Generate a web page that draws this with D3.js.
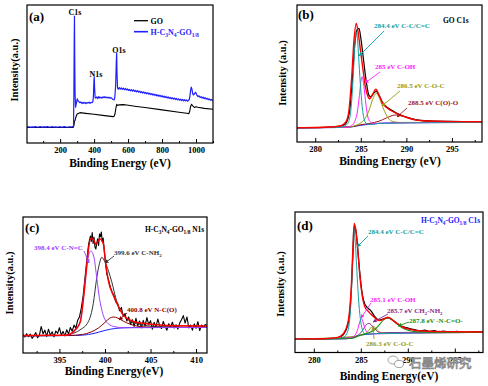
<!DOCTYPE html>
<html>
<head>
<meta charset="utf-8">
<script src="https://cdn.jsdelivr.net/npm/d3@7"></script>
<style>body{margin:0;background:#fff;}</style>
</head>
<body>
<div id="container"></div>
<script>
let w=488;
let h=386;

// ---- (a) survey spectra [binding energy, intensity] ----
let surveyGO = [[5,11.2],[100,11.3],[200,11.2],[275,11.3],[279,11.6],[282,13.5],[285,15.8],[288,16.3],[292,18.5],[300,21],[317,22],[350,21.5],[400,20.8],[450,20],[511,19.1],[518,19.4],[523,21],[528,25],[533,28],[538,27.2],[545,27.6],[570,27.8],[592,27.5],[650,26.5],[700,25.7],[800,24.0],[900,22.3],[945,21.5],[958,21.3],[963,23],[968,26.5],[974,28],[982,26.8],[990,25.8],[1000,26.3],[1010,25.9],[1050,25.1],[1100,24.4]];
let surveyHCN = [[5,11.5],[15,11.8],[25,11.4],[35,11.7],[45,11.5],[55,11.9],[65,11.4],[75,11.6],[85,11.8],[95,11.3],[105,11.7],[115,11.5],[125,11.9],[135,11.4],[145,11.6],[155,11.8],[165,11.5],[175,11.7],[185,11.4],[195,11.8],[205,11.6],[215,11.5],[225,11.9],[235,11.6],[245,11.4],[255,11.7],[265,11.6],[275,11.8],[279,12.5],[281,35],[283,75],[284.5,92],[286,62],[288,36],[291,26],[296,29],[301,32],[306,30.5],[311,30],[316,29.2],[322,29.8],[328,28.6],[334,29.5],[340,28.8],[346,29.4],[352,28.5],[358,29.3],[364,28.9],[370,29.6],[376,28.7],[382,29.5],[388,29.2],[393,30],[396,34],[399,45],[401,47.6],[403,40],[406,33],[410,32.5],[416,33.4],[422,32.2],[428,33.6],[434,32.5],[440,33.2],[446,32.6],[452,33.5],[458,32.8],[464,33.6],[470,32.7],[476,33.3],[482,32.5],[488,33.2],[494,32.4],[500,32.9],[506,32.1],[512,31.5],[518,31.2],[522,33],[527,42],[531,60],[533,65],[535,50],[538,40],[542,38.9],[548,40.2],[554,39.1],[560,40.0],[566,38.8],[572,39.7],[578,38.6],[584,39.5],[590,38.4],[596,39.2],[602,38.1],[608,38.9],[614,37.8],[620,38.7],[626,37.6],[632,38.5],[638,37.3],[644,38.1],[650,37.0],[656,37.9],[662,36.8],[668,37.6],[674,36.5],[680,37.3],[686,36.2],[692,37.0],[698,35.9],[704,36.7],[710,35.6],[716,36.4],[722,35.3],[728,36.1],[734,35.0],[740,35.8],[746,34.7],[752,35.5],[758,34.4],[764,35.2],[770,34.1],[776,34.9],[782,33.8],[788,34.6],[794,33.5],[800,34.3],[806,33.2],[812,34.0],[818,32.9],[824,33.7],[830,32.6],[836,33.4],[842,32.3],[848,33.1],[854,32.0],[860,32.8],[866,31.8],[872,32.6],[878,31.5],[884,32.3],[890,31.3],[896,32.0],[902,31.0],[908,31.8],[914,30.8],[920,31.6],[926,30.6],[932,31.4],[938,30.5],[944,31.2],[950,30.3],[955,30.8],[960,31.5],[964,34],[968,38],[972,40.5],[976,39],[980,36],[984,34.8],[990,35.5],[996,36.8],[1000,36.2],[1006,34.5],[1012,33.6],[1018,34.2],[1024,33.0],[1030,33.6],[1036,32.5],[1042,33.2],[1048,32.1],[1054,32.8],[1060,31.8],[1066,32.4],[1072,31.4],[1078,32.0],[1084,31.0],[1090,31.6],[1096,30.8],[1100,31.2]];
let surveyTicks = [200,400,600,800,1000];
let surveyMinor = [100,300,500,700,900,1100];

// ---- (b) GO C1s ----
let goRaw = [[278,10.3],[280,10.5],[281.5,10.8],[282.5,11.3],[283,12],[283.4,14],[283.8,24],[284.1,48],[284.35,72],[284.6,82],[284.8,83],[285,76],[285.3,60],[285.6,44],[285.9,34],[286.1,33],[286.4,35.5],[286.7,37],[287,34],[287.4,28.8],[287.8,25.8],[288.3,23.5],[288.9,21.2],[290,18.2],[291.1,16.2],[292.6,15.4],[295,15],[298.3,14.7]];
let goFit = [[278,10.5],[280,10.6],[281.5,10.9],[282.5,11.5],[283,12.5],[283.4,15],[283.7,23],[284,47],[284.25,74],[284.5,86.6],[284.75,78],[285,65],[285.2,55],[285.5,40.5],[285.8,33],[285.95,31.4],[286.3,34.8],[286.65,38.5],[287,34.3],[287.4,28.2],[287.8,25.3],[288.3,23],[288.9,20.9],[290,18],[291.1,16],[292.6,15.3],[295,14.9],[298.3,14.8]];
let goBg = [[278,10.4],[282,10.5],[283.5,10.7],[284,11.0],[284.5,11.6],[285,12.2],[285.5,12.6],[286,12.9],[286.5,13.3],[287,13.6],[288,13.9],[289,14.1],[290,14.2],[298.3,14.3]];
let goCC = [[278,10.4],[282.5,10.6],[283,11],[283.5,13],[283.8,18],[284,30],[284.2,52],[284.35,72],[284.5,80.5],[284.65,74],[284.8,58],[285,38],[285.2,23],[285.4,16],[285.7,13],[286.2,12.8],[287,13.6],[298.3,14.3]];
let goCOH = [[278,10.4],[283.5,10.8],[284,12],[284.3,14.5],[284.6,21],[284.85,34],[285.05,46],[285.15,47.7],[285.3,43],[285.5,31],[285.75,19],[286,15],[286.4,13.5],[287,13.7],[298.3,14.3]];
let goCOC = [[278,10.4],[283.5,10.8],[284.3,11.8],[284.9,13.5],[285.4,16.5],[285.9,23],[286.3,31],[286.7,35.5],[287.1,31],[287.5,24],[288,17.5],[288.5,15],[289.2,14.3],[298.3,14.3]];
let goCOO = [[278,10.4],[284,11.2],[285,12.6],[286,13.6],[287,15.2],[287.8,17.5],[288.5,19.4],[288.9,19.7],[289.5,19],[290.3,17.6],[291.2,16],[292.2,15],[293.5,14.5],[298.3,14.3]];
let c1sTicks = [280,285,290,295];
let c1sMinor = [282.5,287.5,292.5,297.5];

// ---- (c) H-C3N4-GO N1s ----
let n1sRaw = [[391.0,13.5],[391.2,11.8],[391.4,14.2],[391.6,12.0],[391.8,13.9],[392.0,10.8],[392.2,12.5],[392.4,15.0],[392.6,11.2],[392.8,13.0],[393.0,19.5],[393.2,14.0],[393.4,16.8],[393.6,12.2],[393.8,17.5],[394.0,13.1],[394.2,15.6],[394.4,11.9],[394.6,16.2],[394.8,14.4],[395.0,18.6],[395.2,13.3],[395.4,15.9],[395.6,12.6],[395.8,17.1],[396.0,14.0],[396.2,18.8],[396.4,16.0],[396.6,20.5],[396.8,18.2],[397.0,24.0],[397.2,26.5],[397.4,33.0],[397.6,42.0],[397.8,55.0],[398.0,68.0],[398.2,80.0],[398.4,86.0],[398.5,82.0],[398.6,88.5],[398.7,80.5],[398.8,85.0],[398.9,78.0],[399.0,76.5],[399.1,81.0],[399.2,84.0],[399.3,79.0],[399.4,87.5],[399.5,85.5],[399.6,89.0],[399.7,82.0],[399.8,84.5],[400.0,70.0],[400.2,58.0],[400.4,53.5],[400.6,48.0],[400.8,44.5],[401.0,42.0],[401.2,37.5],[401.4,36.5],[401.6,31.0],[401.8,33.5],[402.0,27.0],[402.2,29.0],[402.4,23.5],[402.6,26.5],[402.8,21.0],[403.0,24.5],[403.2,19.5],[403.4,25.5],[403.6,20.0],[403.8,23.5],[404.0,18.5],[404.2,24.0],[404.4,19.8],[404.6,26.0],[404.8,21.0],[405.0,23.8],[405.2,17.5],[405.4,22.5],[405.6,19.2],[405.8,25.0],[406.0,20.2],[406.2,18.0],[406.4,23.2],[406.6,19.5],[406.8,16.8],[407.0,21.5],[407.2,19.0],[407.4,22.6],[407.6,18.4],[407.8,20.8],[408.0,17.6],[408.2,22.0],[408.4,24.5],[408.6,27.5],[408.8,22.0],[409.0,26.5],[409.2,18.5],[409.4,20.6],[409.6,16.8],[409.8,21.4],[410.0,18.2],[410.2,23.0],[410.4,16.5],[410.6,20.5],[410.8,18.8],[411.0,21.0],[411.2,19.5]];
let n1sFit = [[391,12.9],[394,13],[395.2,13.1],[395.8,13.3],[396.3,14.5],[396.7,16.9],[397.3,23],[397.6,37.7],[397.9,57],[398.2,77],[398.45,84.3],[398.7,83.8],[399,80],[399.45,83.8],[399.8,80.7],[400.1,64.7],[400.4,52.4],[400.9,42.6],[401.5,34],[402,28],[402.7,24.3],[403.4,22.6],[404.2,21.8],[406,20.6],[408,20.1],[411.2,19.9]];
let n1sBg = [[391,12.7],[396,12.8],[397.5,13.1],[398.2,13.6],[398.8,14.4],[399.4,15.5],[400,16.6],[400.6,17.5],[401.2,18.1],[402,18.5],[403,18.7],[411.2,18.8]];
let n1sCNC = [[391,12.7],[395,12.8],[395.8,13.2],[396.7,16.2],[397.26,23],[397.55,35.3],[397.8,52.4],[398.06,67],[398.45,75],[398.8,70],[399.1,55],[399.4,40],[399.8,28],[400.36,21.5],[401.1,19.3],[402,18.6],[411.2,18.8]];
let n1sCNH2 = [[391,12.7],[395,12.8],[396.16,13.8],[397.26,17],[398.17,23],[398.72,36.5],[399.09,55],[399.4,66],[399.64,70.4],[400,67],[400.4,60],[400.74,52.4],[401.3,37.7],[402,28],[402.75,23.5],[404.2,20.6],[406,19.3],[411.2,18.8]];
let n1sNCO = [[391,12.7],[396,12.9],[397.5,13.6],[398.5,15.5],[399.3,18.5],[400,22.5],[400.5,25.5],[400.9,26.5],[401.4,25.7],[402,23.5],[402.7,21.3],[403.5,19.8],[404.5,19.1],[411.2,18.8]];
let n1sTicks = [395,400,405,410];
let n1sMinor = [392.5,397.5,402.5,407.5];

// ---- (d) H-C3N4-GO C1s ----
let hcRaw = [[278,9.5],[281,9.7],[282.3,10.2],[282.9,11.4],[283.4,15.5],[283.75,24],[284.0,45],[284.18,72],[284.33,90],[284.5,86],[284.72,70],[284.92,55],[285.15,42],[285.4,35],[285.7,32],[286.1,29.5],[286.5,25.5],[286.95,23],[287.45,24],[287.9,24.8],[288.5,22.5],[289.2,19.2],[289.8,17.8],[290.3,16.8],[290.8,16.2],[291.3,15.3],[291.8,15.9],[292.3,15.0],[292.8,15.5],[293.3,14.6],[293.8,15.2],[294.5,14.5],[295.2,15.0],[296,14.4],[297,14.8],[298,14.5]];
let hcFit = [[278,9.7],[281,9.8],[282.3,10.4],[282.86,11.6],[283.4,16.3],[283.74,25.8],[283.99,47.2],[284.17,75.7],[284.3,91.9],[284.46,87.6],[284.7,71],[284.9,54.4],[285.16,40.1],[285.4,33],[285.77,29.4],[286.4,25.3],[286.94,22.7],[287.47,23.9],[287.9,25.1],[288.53,22.3],[289.24,18.7],[290.3,16.3],[292.07,15.1],[295,14.8],[298,14.6]];
let hcBg = [[278,9.6],[283,9.7],[283.8,10.0],[284.2,10.8],[284.6,11.8],[285,12.4],[285.5,12.8],[286,13.1],[286.7,13.5],[287.5,13.9],[288.5,14.2],[290,14.3],[298,14.3]];
let hcCC = [[278,9.6],[282.5,9.8],[283.2,11],[283.6,15],[283.9,30],[284.05,52],[284.15,72],[284.25,88.8],[284.4,80],[284.55,62],[284.7,44],[284.9,27],[285.1,18],[285.4,13.5],[285.8,12.9],[286.5,13.4],[298,14.3]];
let hcCOH = [[278,9.6],[283.5,9.9],[284,10.6],[284.4,12.5],[284.7,17],[284.9,22],[285.05,24.6],[285.2,22.5],[285.4,18],[285.65,14.5],[286,13.2],[286.5,13.3],[298,14.3]];
let hcCH2 = [[278,9.6],[284,10.5],[284.6,11.9],[285,14],[285.35,17.5],[285.65,20.2],[285.85,20.7],[286.1,19.8],[286.45,17],[286.8,14.8],[287.2,13.8],[288,14.0],[298,14.3]];
let hcCOC = [[278,9.6],[284.5,11.5],[285.2,12.7],[285.7,14.5],[286,17],[286.3,18.7],[286.6,17.2],[286.95,14.8],[287.4,13.9],[298,14.3]];
let hcNCO = [[278,9.6],[284,10],[285,12.5],[285.8,13.9],[286.4,15.8],[287,20],[287.5,23.6],[287.9,24.6],[288.3,23.6],[288.8,20.6],[289.4,17.6],[290.1,15.6],[291,14.7],[292.5,14.4],[298,14.3]];
let hcTicks = [280,285,290,295];
let hcMinor = [282.5,287.5,292.5,297.5];

let serif = "'Liberation Serif','Times New Roman',serif";

let viz = d3.select("#container")
  .append("svg")
    .attr("width",w)
    .attr("height",h)
    .style("background-color","#fff")
;

let defs = viz.append("defs");
let markerCount = 0;
function arrowMarker(color){
  let id = "arr"+(markerCount++);
  defs.append("marker")
    .attr("id",id)
    .attr("viewBox","0 0 10 10")
    .attr("refX",9).attr("refY",5)
    .attr("markerWidth",4.5).attr("markerHeight",4.5)
    .attr("orient","auto")
    .append("path").attr("d","M0,0L10,5L0,10Z").attr("fill",color);
  return id;
}

// text with subscripts: parts = [[string, isSub], ...]
function richText(g, parts, x, y, size, color, anchor){
  let t = g.append("text")
    .attr("x",x).attr("y",y)
    .attr("fill",color)
    .attr("font-family",serif)
    .attr("font-weight","bold")
    .attr("font-size",size)
    .attr("text-anchor",anchor||"start");
  let down = false;
  parts.forEach(p=>{
    let s = t.append("tspan").text(p[0]);
    if(p[1] && !down){ s.attr("dy",size*0.3).attr("font-size",size*0.7); down=true; }
    else if(p[1]){ s.attr("font-size",size*0.7); }
    else if(down){ s.attr("dy",-size*0.3); down=false; }
  });
  return t;
}

function drawPanel(p){
  let f = p.frame;
  let x = d3.scaleLinear().domain(p.xDomain).range([f.left,f.right]);
  let y = d3.scaleLinear().domain([0,100]).range([f.bottom,f.top]);
  let g = viz.append("g").attr("class","panel");

  let clipId = "clip-"+p.id;
  defs.append("clipPath").attr("id",clipId)
    .append("rect").attr("x",f.left).attr("y",f.top)
    .attr("width",f.right-f.left).attr("height",f.bottom-f.top);

  let plot = g.append("g").attr("clip-path","url(#"+clipId+")");
  p.curves.forEach(c=>{
    let line = d3.line()
      .x(d=>x(d[0])).y(d=>y(d[1]))
      .curve(c.smooth ? d3.curveMonotoneX : d3.curveLinear);
    plot.append("path").datum(c.data)
      .attr("fill","none")
      .attr("stroke",c.color)
      .attr("stroke-width",c.width||1)
      .attr("stroke-linejoin","round")
      .attr("d",line);
  });

  let ax = g.append("g").attr("transform","translate(0,"+f.bottom+")")
    .call(d3.axisBottom(x).tickValues(p.ticks).tickSize(-4).tickPadding(4).tickFormat(d3.format("d")));
  ax.select(".domain").remove();
  ax.attr("font-family",serif).attr("font-size",8.5).attr("font-weight","bold");
  ax.selectAll("text").attr("fill","#000");
  ax.selectAll("line").attr("stroke","#000");

  let mi = g.append("g").attr("transform","translate(0,"+f.bottom+")")
    .call(d3.axisBottom(x).tickValues(p.minor).tickSize(-2).tickFormat(""));
  mi.select(".domain").remove();
  mi.selectAll("line").attr("stroke","#000");

  g.append("rect")
    .attr("x",f.left).attr("y",f.top)
    .attr("width",f.right-f.left).attr("height",f.bottom-f.top)
    .attr("fill","none").attr("stroke","#000").attr("stroke-width",1.2);

  // letter
  g.append("text").attr("x",p.letter[1]).attr("y",p.letter[2])
    .attr("font-family",serif).attr("font-weight","bold").attr("font-size",13)
    .text(p.letter[0]);
  // axis titles
  g.append("text").attr("x",p.xTitle[1]).attr("y",p.xTitle[2])
    .attr("text-anchor","middle")
    .attr("font-family",serif).attr("font-weight","bold").attr("font-size",11.5)
    .text(p.xTitle[0]);
  g.append("text")
    .attr("transform","translate("+p.yTitle[1]+","+p.yTitle[2]+") rotate(-90)")
    .attr("text-anchor","middle")
    .attr("font-family",serif).attr("font-weight","bold").attr("font-size",10.5)
    .text(p.yTitle[0]);

  (p.notes||[]).forEach(n=>{
    if(n.arrow){
      let id = arrowMarker(n.color);
      g.append("line")
        .attr("x1",n.arrow[0]).attr("y1",n.arrow[1])
        .attr("x2",n.arrow[2]).attr("y2",n.arrow[3])
        .attr("stroke",n.color).attr("stroke-width",0.9)
        .attr("marker-end","url(#"+id+")");
    }
    richText(g, n.parts, n.x, n.y, n.size||7, n.color, n.anchor);
  });
  return g;
}

let teal = "#12a0a0", mag = "#ff22ff", olive = "#9a9a10", dred = "#a01515";

// (a)
let pa = drawPanel({
  id:"a", xDomain:[5,1100], frame:{left:27,right:213,top:5,bottom:143},
  ticks:surveyTicks, minor:surveyMinor,
  curves:[
    {data:surveyGO, color:"#000", width:1.1},
    {data:surveyHCN, color:"#1f1fff", width:1.2}
  ],
  letter:["(a)",29,21],
  xTitle:["Binding Energy (eV)",120,167],
  yTitle:["Intensity(a.u.)",18,70],
  notes:[
    {parts:[["C1s"]], x:75, y:14.5, size:8, color:"#000", anchor:"middle"},
    {parts:[["N1s"]], x:96, y:77, size:8, color:"#000", anchor:"middle"},
    {parts:[["O1s"]], x:119, y:53, size:8, color:"#000", anchor:"middle"},
    {parts:[["GO"]], x:150.5, y:23.5, size:8, color:"#000"},
    {parts:[["H-C"],["3",1],["N"],["4",1],["-GO"],["1/8",1]], x:150.5, y:34.5, size:8, color:"#1f1fff"}
  ]
});
pa.append("line").attr("x1",134).attr("x2",148).attr("y1",20.7).attr("y2",20.7).attr("stroke","#000").attr("stroke-width",1.3);
pa.append("line").attr("x1",134).attr("x2",148).attr("y1",31.7).attr("y2",31.7).attr("stroke","#1f1fff").attr("stroke-width",1.6);

// (b)
drawPanel({
  id:"b", xDomain:[278,298.3], frame:{left:297,right:482,top:5,bottom:142},
  ticks:c1sTicks, minor:c1sMinor,
  curves:[
    {data:goBg, color:"#2020ff", smooth:true},
    {data:goRaw, color:"#000", width:1.2, smooth:true},
    {data:goCOO, color:dred, smooth:true},
    {data:goCOC, color:olive, smooth:true},
    {data:goCOH, color:mag, smooth:true},
    {data:goCC, color:teal, smooth:true},
    {data:goFit, color:"#ff0000", width:1.4, smooth:true}
  ],
  letter:["(b)",298,19],
  xTitle:["Binding Energy (eV)",390,165],
  yTitle:["Intensity (a.u.)",286,73],
  notes:[
    {parts:[["GO C1s"]], x:443, y:23, size:7.5, color:"#000"},
    {parts:[["284.4 eV C-C/C=C"]], x:374, y:28, color:teal, arrow:[384,31,359,56]},
    {parts:[["285 eV C-OH"]], x:375, y:69, color:mag, arrow:[380,72,365,83]},
    {parts:[["286.5 eV C-O-C"]], x:397, y:88, color:olive, arrow:[400,91,382,106]},
    {parts:[["288.5 eV C(O)-O"]], x:408, y:105, color:dred, arrow:[407,108,397,117]}
  ]
});

// (c)
drawPanel({
  id:"c", xDomain:[391,411.2], frame:{left:23,right:207,top:217,bottom:353},
  ticks:n1sTicks, minor:n1sMinor,
  curves:[
    {data:n1sBg, color:"#2020ff", smooth:true},
    {data:n1sRaw, color:"#000", width:1.1},
    {data:n1sNCO, color:"#8b0000", smooth:true},
    {data:n1sCNH2, color:"#333", smooth:true},
    {data:n1sCNC, color:"#a040ff", smooth:true},
    {data:n1sFit, color:"#ff0000", width:1.5, smooth:true}
  ],
  letter:["(c)",25,232],
  xTitle:["Binding Energy(eV)",114,375],
  yTitle:["Intensity(a.u.)",13,283],
  notes:[
    {parts:[["H-C"],["3",1],["N"],["4",1],["-GO"],["1/8",1],[" N1s"]], x:145, y:232, size:7.5, color:"#000"},
    {parts:[["398.4 eV C-N=C"]], x:34, y:250, color:"#a040ff", arrow:[84,251,89,263]},
    {parts:[["399.6 eV C-NH"],["2",1]], x:114, y:255, color:"#333", arrow:[114,256,105,263]},
    {parts:[["400.8 eV N-C(O)"]], x:127, y:312, color:"#8b0000", arrow:[127,313,119,320]}
  ]
});

// (d)
drawPanel({
  id:"d", xDomain:[278,298], frame:{left:295,right:483,top:212,bottom:352.5},
  ticks:hcTicks, minor:hcMinor,
  curves:[
    {data:hcBg, color:"#2020ff", smooth:true},
    {data:hcRaw, color:"#000", width:1.2, smooth:true},
    {data:hcCOC, color:olive, smooth:true},
    {data:hcCH2, color:"#8a2a8a", smooth:true},
    {data:hcCOH, color:mag, smooth:true},
    {data:hcCC, color:teal, smooth:true},
    {data:hcNCO, color:"#179017", width:1.1, smooth:true},
    {data:hcFit, color:"#ff0000", width:1.4, smooth:true}
  ],
  letter:["(d)",297,230],
  xTitle:["Binding Energy(eV)",389,380],
  yTitle:["Intensity (a.u.)",284,284],
  notes:[
    {parts:[["H-C"],["3",1],["N"],["4",1],["-GO"],["1/8",1],[" C1s"]], x:421, y:223, size:7.5, color:"#2020ff"},
    {parts:[["284.4 eV C-C/C=C"]], x:368, y:234, color:teal, arrow:[368,236,357,247]},
    {parts:[["285.1 eV C-OH"]], x:370, y:302, color:mag, arrow:[371,303,361,318]},
    {parts:[["285.7 eV CH"],["2",1],["-NH"],["2",1]], x:387, y:313, color:"#8a2a8a", arrow:[388,314,373,322]},
    {parts:[["287.8 eV -N-C=O-"]], x:409, y:323, color:"#179017", arrow:[409,322,398,326]},
    {parts:[["286.3 eV C-O-C"]], x:366, y:346, color:olive, arrow:[374,339,373,327]}
  ]
});

// watermark
let wm = viz.append("g");
wm.append("ellipse").attr("cx",393).attr("cy",360).attr("rx",5).attr("ry",4)
  .attr("fill","none").attr("stroke","#999").attr("stroke-width",0.9);
wm.append("ellipse").attr("cx",399).attr("cy",364).attr("rx",4.5).attr("ry",3.6)
  .attr("fill","#fff").attr("stroke","#999").attr("stroke-width",0.9);
wm.append("text").attr("x",409).attr("y",368)
  .attr("font-family","'Noto Sans CJK SC',sans-serif").attr("font-size",12.5)
  .attr("fill","#fff").attr("stroke","#8a8a8a").attr("stroke-width",0.8)
  .text("石墨烯研究");
</script>
</body>
</html>
